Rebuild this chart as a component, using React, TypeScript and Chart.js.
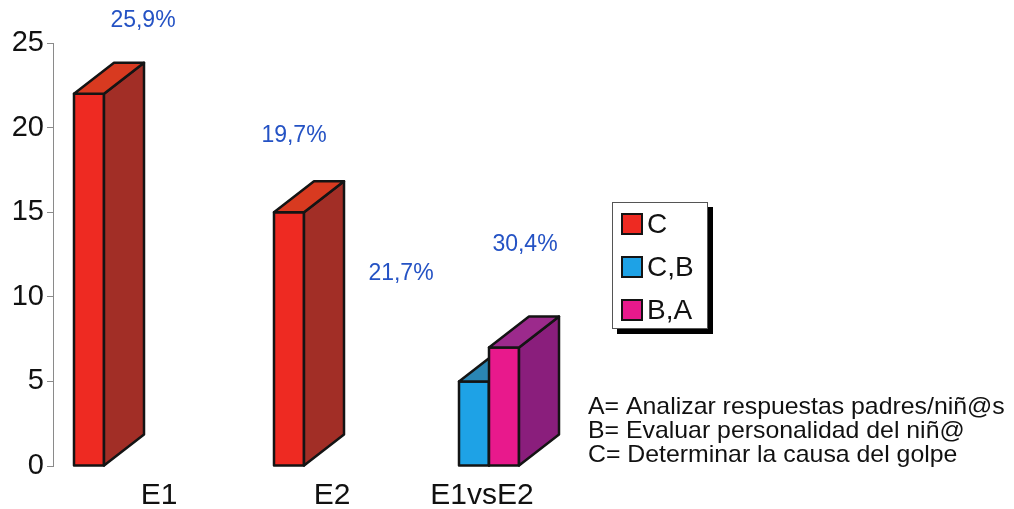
import React, { useEffect, useRef } from 'react';
import { Chart, registerables } from 'chart.js';

Chart.register(...registerables);

// ---- data ----
const categories = ['E1', 'E2', 'E1vsE2'];
const seriesNames = ['C', 'C,B', 'B,A'];
const seriesC = [22, 15, null];
const seriesCB = [null, null, 5];
const seriesBA = [null, null, 7];
const pctC = ['25,9%', '19,7%', null];
const pctCB = [null, null, '21,7%'];
const pctBA = [null, null, '30,4%'];
const yTicks = [0, 5, 10, 15, 20, 25];
const notes = [
  'A= Analizar respuestas padres/niñ@s',
  'B= Evaluar personalidad del niñ@',
  'C= Determinar la causa del golpe',
];

// ---- styles / layout ----
const FONT = '"Liberation Sans", Arial, Helvetica, sans-serif';
const faces = [
  { front: '#ee2a22', top: '#d83a20', side: '#a22e26' },
  { front: '#1ea2e6', top: '#2a86b4', side: '#1a6a9a' },
  { front: '#e8198c', top: '#9c2a8c', side: '#8a1e7c' },
];
const DEPTH_X = 40;
const DEPTH_Y = 31;
const OUTLINE = '#141414';
const pctOffsets = [
  [[54, -73], [5, -77], null],
  [null, null, [-73, -108]],
  [null, null, [21, -103]],
];
const catLabelDx = [70, 43, -7];
const catLabelY = 496;
const legendBox = { x: 612, y: 202, w: 96, h: 127, shadow: 5 };
const legendRowY = [224, 267, 310];
const notesPos = { x: 588, y: 407, lh: 24, size: 24, stretch: 1.035 };

const toPoints = (arr: (number | null)[]) => arr.map((v, i) => ({ x: i, y: v }));

const threeD = {
  id: 'threeD',
  afterDatasetsDraw(chart: any) {
    const ctx = chart.ctx;
    ctx.save();
    ctx.lineWidth = 2.5;
    ctx.strokeStyle = OUTLINE;
    ctx.lineJoin = 'round';
    chart.data.datasets.forEach((_ds: any, d: number) => {
      const meta = chart.getDatasetMeta(d);
      const f = faces[d];
      meta.data.forEach((el: any, i: number) => {
        const parsed = meta._parsed[i];
        if (!parsed || parsed.y == null || isNaN(parsed.y)) return;
        const { x, y, base, width } = el.getProps(['x', 'y', 'base', 'width'], true);
        const l = x - width / 2;
        const r = x + width / 2;
        // front
        ctx.fillStyle = f.front;
        ctx.fillRect(l, y, width, base - y);
        ctx.strokeRect(l, y, width, base - y);
        // side
        ctx.beginPath();
        ctx.moveTo(r, y);
        ctx.lineTo(r + DEPTH_X, y - DEPTH_Y);
        ctx.lineTo(r + DEPTH_X, base - DEPTH_Y);
        ctx.lineTo(r, base);
        ctx.closePath();
        ctx.fillStyle = f.side;
        ctx.fill();
        ctx.stroke();
        // top
        ctx.beginPath();
        ctx.moveTo(l, y);
        ctx.lineTo(l + DEPTH_X, y - DEPTH_Y);
        ctx.lineTo(r + DEPTH_X, y - DEPTH_Y);
        ctx.lineTo(r, y);
        ctx.closePath();
        ctx.fillStyle = f.top;
        ctx.fill();
        ctx.stroke();
      });
    });
    ctx.restore();
  },
};

const extras = {
  id: 'extras',
  afterDraw(chart: any) {
    const ctx = chart.ctx;
    const xs = chart.scales.x;
    ctx.save();
    // percentage labels
    const pcts = [pctC, pctCB, pctBA];
    ctx.font = `23px ${FONT}`;
    ctx.fillStyle = '#2452c4';
    ctx.textAlign = 'center';
    ctx.textBaseline = 'middle';
    pcts.forEach((arr, d) => {
      const meta = chart.getDatasetMeta(d);
      arr.forEach((t, i) => {
        if (!t) return;
        const off = pctOffsets[d][i];
        const el = meta.data[i];
        if (!el || !off) return;
        ctx.fillText(t, el.x + off[0], el.y + off[1]);
      });
    });
    // category labels
    ctx.font = `30px ${FONT}`;
    ctx.fillStyle = '#111';
    categories.forEach((c, i) => {
      ctx.fillText(c, xs.getPixelForValue(i) + catLabelDx[i], catLabelY);
    });
    // legend
    const b = legendBox;
    ctx.fillStyle = '#000';
    ctx.fillRect(b.x + b.shadow, b.y + b.shadow, b.w, b.h);
    ctx.fillStyle = '#fff';
    ctx.fillRect(b.x, b.y, b.w, b.h);
    ctx.lineWidth = 1;
    ctx.strokeStyle = '#555';
    ctx.strokeRect(b.x + 0.5, b.y + 0.5, b.w - 1, b.h - 1);
    ctx.font = `28px ${FONT}`;
    ctx.textAlign = 'left';
    chart.data.datasets.forEach((ds: any, i: number) => {
      const cy = legendRowY[i];
      ctx.fillStyle = ds.backgroundColor;
      ctx.fillRect(622, cy - 10, 20, 20);
      ctx.lineWidth = 2;
      ctx.strokeStyle = OUTLINE;
      ctx.strokeRect(622, cy - 10, 20, 20);
      ctx.fillStyle = '#111';
      ctx.fillText(ds.label, 647, cy + 1);
    });
    // notes
    ctx.font = `${notesPos.size}px ${FONT}`;
    ctx.fillStyle = '#111';
    notes.forEach((n, i) => {
      ctx.save();
      ctx.translate(notesPos.x, notesPos.y + i * notesPos.lh);
      ctx.scale(notesPos.stretch, 1);
      ctx.fillText(n, 0, 0);
      ctx.restore();
    });
    ctx.restore();
  },
};

export default function App() {
  const ref = useRef<HTMLCanvasElement>(null);
  useEffect(() => {
    if (!ref.current) return;
    const seriesData = [seriesC, seriesCB, seriesBA];
    const chart = new Chart(ref.current, {
      type: 'bar',
      data: {
        datasets: seriesData.map((s, i) => ({
          label: seriesNames[i],
          data: toPoints(s) as any,
          backgroundColor: faces[i].front,
          borderColor: OUTLINE,
          borderWidth: 0,
          barThickness: 30,
          skipNull: true,
          grouped: true,
        })),
      },
      options: {
        animation: false,
        responsive: true,
        maintainAspectRatio: false,
        layout: { padding: { left: 0, top: 43, right: 402, bottom: 43 } },
        plugins: { legend: { display: false }, tooltip: { enabled: false } },
        scales: {
          x: { type: 'linear', min: -0.18, max: 2.615, offset: false, display: false },
          y: {
            min: 0,
            max: 25,
            afterBuildTicks: (s: any) => {
              s.ticks = yTicks.map((v) => ({ value: v }));
            },
            afterFit: (s: any) => {
              s.width = 53;
            },
            ticks: { font: { family: FONT, size: 29 }, color: '#111', padding: 3 },
            grid: { drawOnChartArea: false, drawTicks: true, tickLength: 6, color: '#8a8a8a' },
            border: { display: true, color: '#8a8a8a', width: 1 },
          },
        },
      },
      plugins: [threeD, extras],
    });
    return () => chart.destroy();
  }, []);
  return (
    <div style={{ position: 'absolute', left: 0, top: 0, width: 1014, height: 509, background: '#fff' }}>
      <canvas ref={ref} />
    </div>
  );
}
